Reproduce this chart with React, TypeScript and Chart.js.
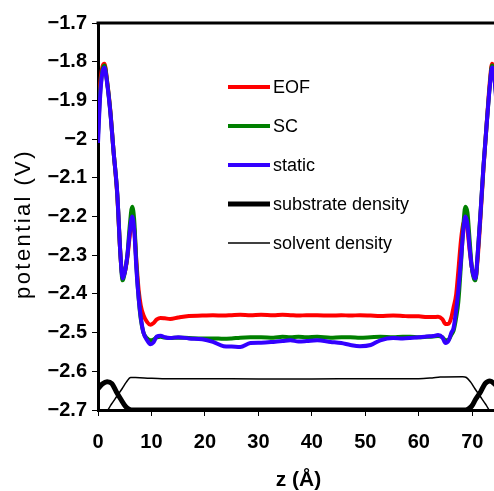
import React, { useEffect, useRef } from "react";
import { Chart, registerables } from "chart.js";

Chart.register(...registerables);

// ---------- data ----------
const zGrid = [
  0, 0.4, 0.8, 1.2, 1.7, 2.3, 2.9, 3.6, 4.2, 4.6, 5.0, 5.5, 5.9, 6.4, 6.8, 7.2, 7.6, 8.0, 8.5, 9.2,
  9.8, 10.4, 11.0, 11.7, 12.5, 13.5, 15, 17, 19.5, 21.5, 23.5, 25, 26.6, 28.5, 30.5, 32.8, 34.5, 36,
  37.5, 39, 41, 43.5, 45.5, 47.2, 49, 51, 52.8, 55.2, 57, 58.4, 60, 61.5, 62.7, 63.6, 64.4, 65, 65.6,
  66.1, 66.5, 67.0, 67.4, 67.9, 68.3, 68.7, 69.1, 69.5, 69.9, 70.3, 70.6, 71.0, 71.5, 72.1, 72.8,
  73.3, 73.7, 74.1, 74.6, 75,
];

const eofV = [
  -1.96, -1.86, -1.815, -1.805, -1.85, -1.925, -2.03, -2.145, -2.3, -2.355, -2.345, -2.305, -2.255,
  -2.21, -2.235, -2.32, -2.39, -2.43, -2.455, -2.473, -2.48, -2.475, -2.466, -2.462, -2.463, -2.465,
  -2.461, -2.457, -2.456, -2.455, -2.456, -2.455, -2.454, -2.455, -2.454, -2.455, -2.454, -2.455,
  -2.456, -2.455, -2.455, -2.456, -2.455, -2.456, -2.455, -2.456, -2.457, -2.456, -2.457, -2.458,
  -2.458, -2.46, -2.46, -2.459, -2.465, -2.478, -2.477, -2.46, -2.435, -2.4, -2.34, -2.26, -2.22,
  -2.212, -2.235, -2.285, -2.33, -2.355, -2.36, -2.31, -2.21, -2.075, -1.94, -1.85, -1.805, -1.82,
  -1.88, -1.96,
];

const scV = [
  -1.99, -1.88, -1.825, -1.81, -1.852, -1.928, -2.03, -2.14, -2.3, -2.365, -2.345, -2.3, -2.23,
  -2.175, -2.215, -2.33, -2.41, -2.465, -2.5, -2.515, -2.52, -2.518, -2.512, -2.511, -2.513, -2.514,
  -2.513, -2.514, -2.515, -2.515, -2.516, -2.515, -2.513, -2.512, -2.512, -2.513, -2.511, -2.512,
  -2.511, -2.512, -2.511, -2.513, -2.512, -2.512, -2.513, -2.512, -2.511, -2.512, -2.511, -2.511,
  -2.512, -2.511, -2.51, -2.509, -2.512, -2.52, -2.518, -2.505, -2.495, -2.46, -2.42, -2.32, -2.23,
  -2.175, -2.19, -2.26, -2.33, -2.36, -2.365, -2.3, -2.2, -2.07, -1.943, -1.86, -1.81, -1.835, -1.91,
  -1.99,
];

const staticV = [
  -2.01, -1.89, -1.83, -1.815, -1.855, -1.93, -2.03, -2.14, -2.3, -2.36, -2.345, -2.3, -2.245, -2.2,
  -2.24, -2.34, -2.41, -2.46, -2.5, -2.52, -2.53, -2.525, -2.51, -2.508, -2.512, -2.514, -2.512,
  -2.515, -2.517, -2.524, -2.535, -2.536, -2.537, -2.527, -2.526, -2.524, -2.522, -2.52, -2.523,
  -2.522, -2.52, -2.524, -2.527, -2.532, -2.535, -2.532, -2.52, -2.514, -2.515, -2.514, -2.512,
  -2.51, -2.509, -2.506, -2.512, -2.527, -2.52, -2.5, -2.488, -2.44, -2.39, -2.31, -2.24, -2.2,
  -2.22, -2.28, -2.33, -2.355, -2.36, -2.3, -2.2, -2.07, -1.943, -1.86, -1.815, -1.84, -1.92, -2.01,
];

const substrateZ = [0, 0.8, 1.7, 2.6, 3.4, 4.3, 5.1, 5.8, 6.6, 68.4, 69.2, 69.9, 70.6, 71.6, 72.4, 73.3, 74.2, 75];
const substrateV = [
  -2.645, -2.633, -2.627, -2.632, -2.652, -2.673, -2.69, -2.698, -2.7, -2.7, -2.698, -2.69, -2.673,
  -2.652, -2.632, -2.625, -2.633, -2.645,
];

const solventZ = [0, 1.7, 2.5, 3.5, 4.5, 5.3, 6.1, 7, 9.7, 12, 20, 30, 40, 50, 60, 62.5, 64, 68.2, 68.9, 69.7, 70.5, 71.5, 72.5, 73.3, 75];
const solventV = [
  -2.7, -2.7, -2.685, -2.665, -2.645, -2.628, -2.616, -2.616, -2.618, -2.619, -2.619, -2.62, -2.62,
  -2.619, -2.619, -2.617, -2.615, -2.614, -2.616, -2.628, -2.645, -2.665, -2.685, -2.7, -2.7,
];

const seriesLabels = ["EOF", "SC", "static", "substrate density", "solvent density"];
const xTickValues = [0, 10, 20, 30, 40, 50, 60, 70];
const xMin = 0;
const xMax = 75;
const yMin = -2.7;
const yMax = -1.7;
const yStep = 0.1;
const xTitle = "z (Å)";
const yTitle = "potential (V)";

const FONT = "'Liberation Sans', Arial, Helvetica, sans-serif";

const toPoints = (xs: number[], ys: number[]) => xs.map((x, i) => ({ x, y: ys[i] }));

// ---------- plugins ----------
const framePlugin = {
  id: "frameTop",
  afterDatasetsDraw(chart: any) {
    const { ctx, chartArea } = chart;
    ctx.save();
    ctx.strokeStyle = "#000";
    ctx.lineWidth = 3;
    ctx.beginPath();
    ctx.moveTo(chartArea.left - 1.5, chartArea.top);
    ctx.lineTo(chartArea.right + 1.5, chartArea.top);
    ctx.lineTo(chartArea.right, chartArea.bottom);
    ctx.stroke();
    ctx.restore();
  },
};

const insideLegendPlugin = {
  id: "insideLegend",
  afterDraw(chart: any, _args: any, opts: any) {
    const ctx = chart.ctx;
    ctx.save();
    chart.data.datasets.forEach((ds: any, i: number) => {
      const y = opts.y0 + i * opts.step;
      ctx.beginPath();
      ctx.strokeStyle = ds.borderColor;
      ctx.lineWidth = ds.borderWidth;
      ctx.lineCap = "butt";
      ctx.moveTo(opts.x, y);
      ctx.lineTo(opts.x + opts.len, y);
      ctx.stroke();
      ctx.fillStyle = "#000";
      ctx.font = opts.font;
      ctx.textAlign = "left";
      ctx.textBaseline = "middle";
      ctx.fillText(ds.label, opts.x + opts.len + opts.gap, y + 1);
    });
    ctx.restore();
  },
};

const yTitlePlugin = {
  id: "yTitleSpaced",
  afterDraw(chart: any, _args: any, opts: any) {
    const ctx = chart.ctx;
    ctx.save();
    ctx.translate(opts.x, opts.y);
    ctx.rotate(-Math.PI / 2);
    ctx.font = opts.font;
    (ctx as any).letterSpacing = opts.spacing;
    ctx.fillStyle = "#000";
    ctx.textAlign = "center";
    ctx.textBaseline = "middle";
    ctx.fillText(opts.text, 0, 0);
    ctx.restore();
  },
};

export default function App() {
  const canvasRef = useRef<HTMLCanvasElement | null>(null);

  useEffect(() => {
    if (!canvasRef.current) return;
    const chart = new Chart(canvasRef.current, {
      type: "line",
      data: {
        datasets: [
          {
            label: seriesLabels[0],
            data: toPoints(zGrid, eofV),
            borderColor: "#ff0000",
            borderWidth: 4,
            order: 3,
          },
          {
            label: seriesLabels[1],
            data: toPoints(zGrid, scV),
            borderColor: "#008000",
            borderWidth: 4,
            order: 2,
          },
          {
            label: seriesLabels[2],
            data: toPoints(zGrid, staticV),
            borderColor: "#3300ff",
            borderWidth: 4,
            order: 1,
          },
          {
            label: seriesLabels[3],
            data: toPoints(substrateZ, substrateV),
            borderColor: "#000000",
            borderWidth: 5,
            order: 0,
          },
          {
            label: seriesLabels[4],
            data: toPoints(solventZ, solventV),
            borderColor: "#000000",
            borderWidth: 1.5,
            order: 0,
          },
        ] as any,
      },
      options: {
        animation: false,
        responsive: false,
        maintainAspectRatio: false,
        layout: { padding: { left: 0, top: 23, right: 21, bottom: 0 } },
        elements: {
          point: { radius: 0 },
          line: { cubicInterpolationMode: "monotone", fill: false },
        },
        plugins: {
          legend: { display: false },
          tooltip: { enabled: false },
          insideLegend: {
            x: 228,
            len: 42,
            gap: 3,
            y0: 87,
            step: 39,
            font: `18px ${FONT}`,
          },
          yTitleSpaced: {
            text: yTitle,
            x: 24,
            y: 224,
            font: `22px ${FONT}`,
            spacing: "2.4px",
          },
        } as any,
        scales: {
          x: {
            type: "linear",
            min: xMin,
            max: xMax,
            afterFit: (s: any) => {
              s.height = 81;
            },
            afterBuildTicks: (s: any) => {
              s.ticks = xTickValues.map((v) => ({ value: v }));
            },
            grid: {
              drawOnChartArea: false,
              drawTicks: true,
              tickLength: 6,
              color: "#000",
              lineWidth: 1,
            },
            border: { display: true, color: "#000", width: 3 },
            ticks: {
              color: "#000",
              padding: 14,
              maxRotation: 0,
              font: { family: FONT, size: 20, weight: "bold" },
              callback: (v: any) => String(v),
            },
            title: {
              display: true,
              text: xTitle,
              color: "#000",
              font: { family: FONT, size: 21, weight: "bold", lineHeight: 1 },
              padding: { top: 0, bottom: 0 },
            },
          },
          y: {
            type: "linear",
            min: yMin,
            max: yMax,
            afterFit: (s: any) => {
              s.width = 98;
            },
            grid: {
              drawOnChartArea: false,
              drawTicks: true,
              tickLength: 6,
              color: "#000",
              lineWidth: 1,
            },
            border: { display: true, color: "#000", width: 3 },
            ticks: {
              stepSize: yStep,
              color: "#000",
              padding: 5,
              font: { family: FONT, size: 20, weight: "bold" },
              callback: (v: any) => String(Number(Number(v).toFixed(1))).replace("-", "\u2212"),
            },
            title: { display: false },
          },
        },
      } as any,
      plugins: [framePlugin, insideLegendPlugin, yTitlePlugin],
    });
    return () => chart.destroy();
  }, []);

  return (
    <div
      style={{
        position: "absolute",
        left: 0,
        top: 0,
        width: 494,
        height: 491,
        overflow: "hidden",
        background: "#fff",
      }}
    >
      <canvas ref={canvasRef} width={520} height={491} style={{ display: "block" }} />
    </div>
  );
}
